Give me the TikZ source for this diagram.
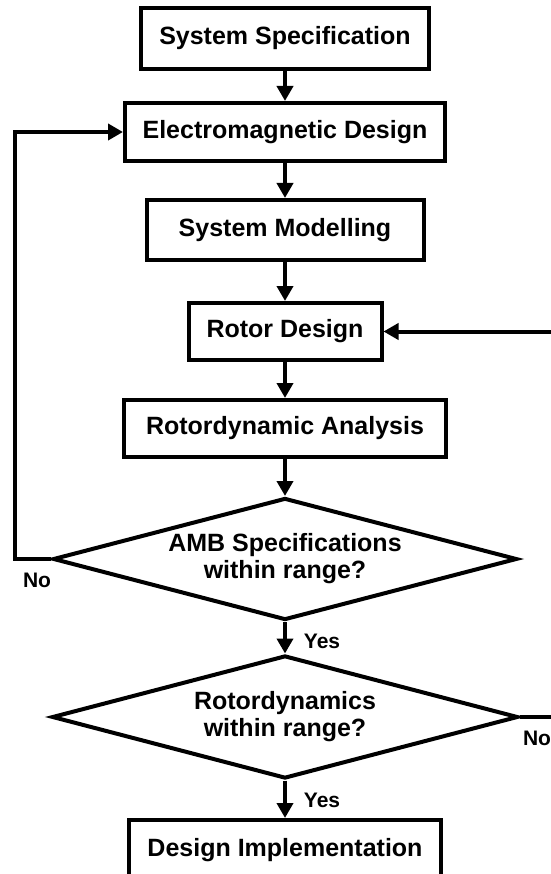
\documentclass[tikz,border=0pt]{standalone}
\usepackage{fontspec}
\setmainfont{Liberation Sans}
\usetikzlibrary{arrows.meta,shapes.geometric}

\begin{document}
\begin{tikzpicture}[x=1pt,y=-1pt,
  blk/.style={draw,line width=4pt,inner sep=0pt,font=\fontsize{25}{27}\selectfont\bfseries},
  dec/.style={draw,shape=diamond,aspect=3.85,inner sep=0pt,line width=4pt,align=center,font=\fontsize{25}{27}\selectfont\bfseries},
  lbl/.style={font=\fontsize{21}{24}\selectfont\bfseries},
  arr/.style={line width=4pt,-{Triangle[length=15pt,width=16pt]}}]
\useasboundingbox (0,0) rectangle (550,874);
% boxes
\node[blk,minimum width=288pt,minimum height=61pt] (spec) at (285,38.5) {System Specification};
\node[blk,minimum width=320pt,minimum height=58pt] (emd) at (285,132) {Electromagnetic Design};
\node[blk,minimum width=277pt,minimum height=60pt] (model) at (285,230) {System Modelling};
\node[blk,minimum width=193pt,minimum height=57pt] (rotor) at (285,331.5) {Rotor Design};
\node[blk,minimum width=322pt,minimum height=57pt] (rda) at (285,428.5) {Rotordynamic Analysis};
\node[dec,minimum width=464pt,minimum height=122pt] (amb) at (285,559) {AMB Specifications\\within range?};
\node[dec,minimum width=466pt,minimum height=123pt] (rdy) at (285,717) {Rotordynamics\\within range?};
\node[blk,minimum width=312pt,minimum height=60pt] (impl) at (285,850) {Design Implementation};
% corners of the loops
\coordinate (lf) at (15,559);
\coordinate (rt) at (562,717);
\draw[arr] (spec)--(emd);
\draw[arr] (emd)--(model);
\draw[arr] (model)--(rotor);
\draw[arr] (rotor)--(rda);
\draw[arr] (rda)--(amb.north);
\draw[arr] (amb.south)--(rdy.north);
\draw[arr] (rdy.south)--(impl);
\draw[arr] (amb.west)--(lf)|-(emd.west);
\draw[arr] (rdy.east)--(rt)|-(rotor.east);
% labels
\node[lbl] (no1) at (37,580) {No};
\node[lbl] (yes1) at (322,641) {Yes};
\node[lbl] (no2) at (537,738) {No};
\node[lbl] (yes2) at (322,800) {Yes};
\end{tikzpicture}
\end{document}
